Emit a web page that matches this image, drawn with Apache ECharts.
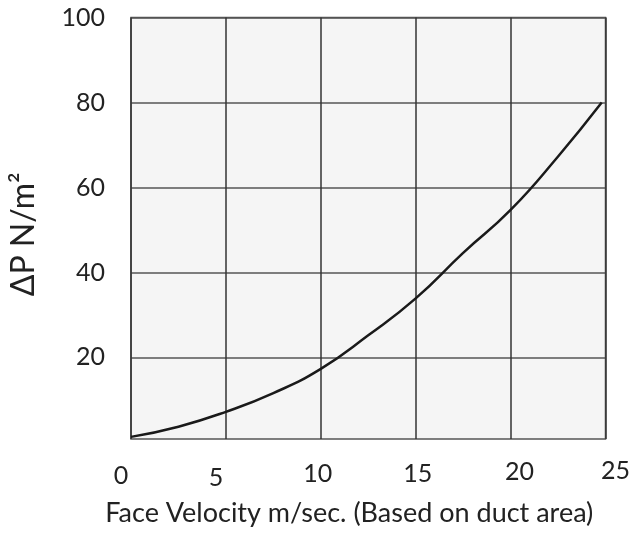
<!DOCTYPE html>
<html>
<head>
<meta charset="utf-8">
<script src="https://cdn.jsdelivr.net/npm/echarts@6/dist/echarts.min.js"></script>
<style>
html,body{margin:0;padding:0;background:#fff;}
#chart{width:633px;height:538px;}
</style>
</head>
<body>
<div id="chart"></div>
<script>
const velocity = [0, 2.5, 5, 7.5, 10, 12.5, 15, 17.5, 20, 22.5, 24.8];
const pressure = [1.3, 3.7, 7.2, 11.6, 17.3, 25.2, 33.9, 44.6, 54.7, 67.3, 80];
const xTicks = [0, 5, 10, 15, 20, 25];
const yTicks = [20, 40, 60, 80, 100];
const xTitle = 'Face Velocity m/sec. (Based on duct area)';
const yTitle = 'ΔP N/m²';

// per-label nudges [down, right] in px, matching the reference's uneven tick text
const labelNudge = {0: [1, -10], 5: [3, -10], 10: [-1, -3], 15: [-1, 2], 20: [-3, 9], 25: [-4, 10]};
const rich = {};
xTicks.forEach(v => {
  const [dy, dx] = labelNudge[v];
  rich['t' + v] = {fontFamily: 'Lato', fontSize: 25, color: '#222',
    padding: [6 + dy, dx < 0 ? -dx * 2 : 0, 0, dx > 0 ? dx * 2 : 0]};
});

const chart = echarts.init(document.getElementById('chart'));
chart.setOption({
  backgroundColor: '#ffffff',
  animation: false,
  grid: {left: 128, right: 27, top: 17.5, bottom: 99, show: true,
    backgroundColor: '#f5f5f5', borderColor: '#555', borderWidth: 1.5},
  xAxis: {
    type: 'value', min: 0, max: 25, interval: 5,
    name: xTitle, nameLocation: 'middle', nameGap: 61,
    nameTextStyle: {fontFamily: 'Lato', fontSize: 27, color: '#222', padding: [0, 38, 0, 0]},
    axisLine: {show: false}, axisTick: {show: false},
    axisLabel: {margin: 17, formatter: v => '{t' + v + '|' + v + '}', rich: rich},
    splitLine: {show: true, lineStyle: {color: '#333', width: 1.5}}
  },
  yAxis: {
    type: 'value', min: 0.8, max: 100,
    name: yTitle, nameLocation: 'middle', nameGap: 91,
    nameTextStyle: {fontFamily: 'Lato', fontSize: 32, color: '#222', padding: [0, 12, 0, 0]},
    axisLine: {show: false},
    axisTick: {show: false, customValues: yTicks},
    axisLabel: {customValues: yTicks, margin: 26, fontFamily: 'Lato', fontSize: 25, color: '#222',
      padding: [7, 0, 0, 0]},
    splitLine: {show: true, lineStyle: {color: '#555', width: 1.5}}
  },
  series: [{
    type: 'line',
    data: velocity.map((v, i) => [v, pressure[i]]),
    smooth: 0.5, showSymbol: false,
    lineStyle: {color: '#1a1a1a', width: 2.5}
  }]
});
</script>
</body>
</html>
